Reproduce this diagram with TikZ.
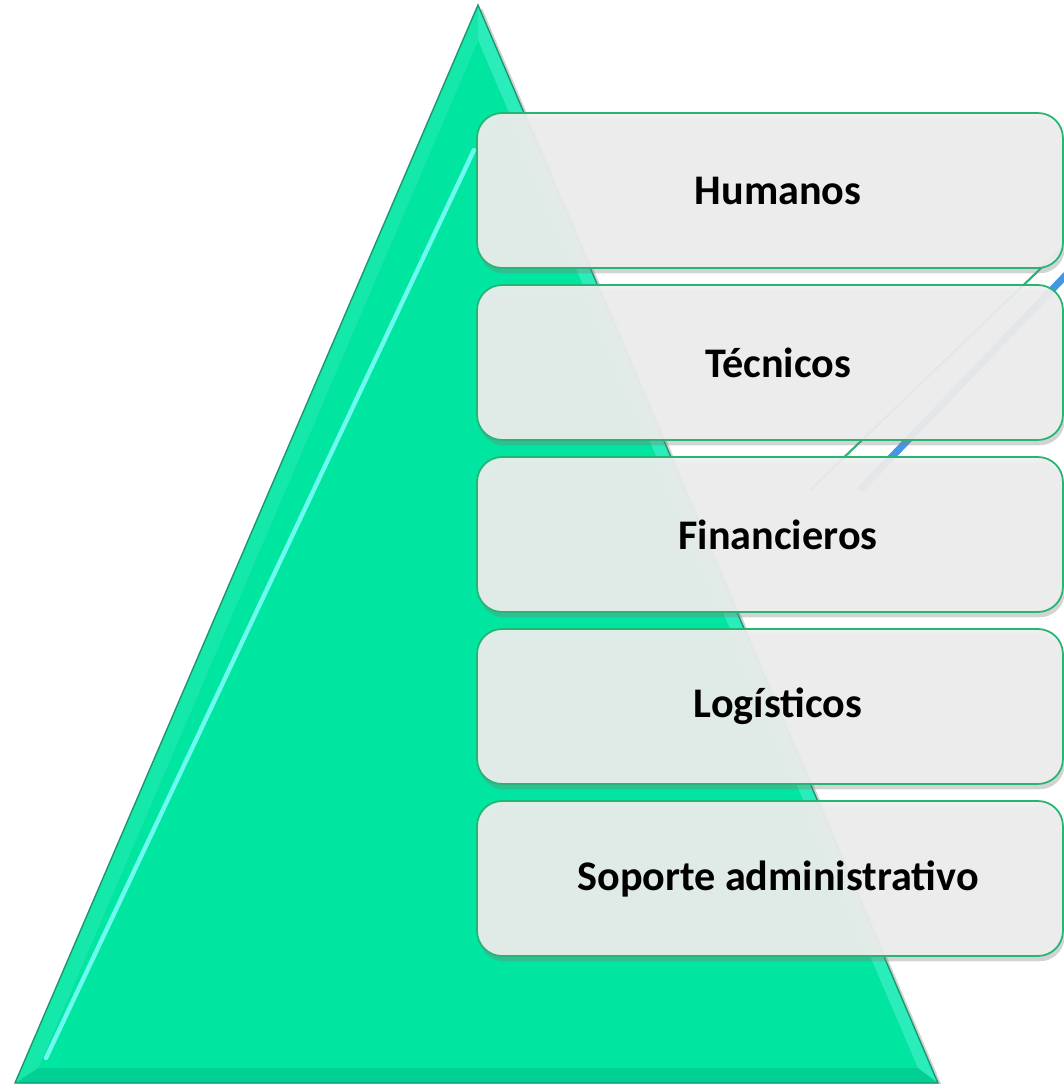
\documentclass[tikz,border=0pt]{standalone}
\usepackage{fontspec}
\setmainfont{Carlito}
\usetikzlibrary{shadows}
\definecolor{PyrGreen}{RGB}{0,229,160}
\definecolor{PyrEdge}{RGB}{30,150,110}
\definecolor{PyrLight}{RGB}{20,232,170}
\definecolor{PyrDark}{RGB}{0,208,148}
\definecolor{PyrCyan}{RGB}{110,250,240}
\definecolor{BoxFill}{RGB}{238,238,238}
\definecolor{BoxLine}{RGB}{40,180,115}
\definecolor{RayBlue}{RGB}{70,150,230}

\begin{document}
\begin{tikzpicture}[x=0.02cm, y=-0.02cm,
          rbox/.style={rectangle, rounded corners=0.5cm, minimum width=11.72cm,
                       minimum height=3.1cm, align=center, font=\fontsize{24}{28}\selectfont\bfseries,
                       fill=BoxFill, fill opacity=0.93, text opacity=1, draw=BoxLine, line width=1pt,
                       drop shadow={shadow xshift=1pt, shadow yshift=-3pt, opacity=0.35}},
          ray/.style={line width=#1, line cap=butt}
        ]
        \useasboundingbox (0,0) rectangle (1063,1084);

        % Pyramid with bevel
        \coordinate (top) at (478,5);
        \coordinate (bl)  at (15,1083);
        \coordinate (br)  at (938,1083);
        \coordinate (itop) at (478,40);
        \coordinate (ibl)  at (38,1068);
        \coordinate (ibr)  at (918,1068);
        \fill[black!35, opacity=0.5] ([shift={(4,3)}]top) -- ([shift={(4,3)}]bl) -- ([shift={(4,3)}]br) -- cycle;
        \fill[PyrLight] (top) -- (bl) -- (ibl) -- (itop) -- cycle;
        \fill[PyrLight!75!PyrCyan] (top) -- (br) -- (ibr) -- (itop) -- cycle;
        \fill[PyrDark] (bl) -- (br) -- (ibr) -- (ibl) -- cycle;
        \fill[PyrGreen] (itop) -- (ibl) -- (ibr) -- cycle;
        \draw[PyrCyan, line width=2.5pt, line cap=round] ([shift={(-4,110)}]itop) -- ([shift={(8,-10)}]ibl);
        \draw[PyrEdge, line width=0.8pt] (top) -- (bl) -- (br) -- cycle;

        % faint rays behind the boxes
        \coordinate (ga) at (1060,250);
        \coordinate (gb) at (810,490);
        \coordinate (ba) at (1090,250);
        \coordinate (bb) at (860,490);
        \draw[ray=1.2pt, BoxLine] (ga) -- (gb);
        \draw[ray=4pt, RayBlue] (ba) -- (bb);

        % Resource boxes
        \node[rbox] (hum) at (770,190.5) {\hspace*{0.32cm}Humanos};
        \node[rbox] (tec) at (770,362.5) {\hspace*{0.32cm}Técnicos};
        \node[rbox] (fin) at (770,534.5) {\hspace*{0.32cm}Financieros};
        \node[rbox] (log) at (770,706.5) {\hspace*{0.32cm}Logísticos};
        \node[rbox] (sop) at (770,878.5) {\hspace*{0.32cm}Soporte administrativo};
\end{tikzpicture}
\end{document}
